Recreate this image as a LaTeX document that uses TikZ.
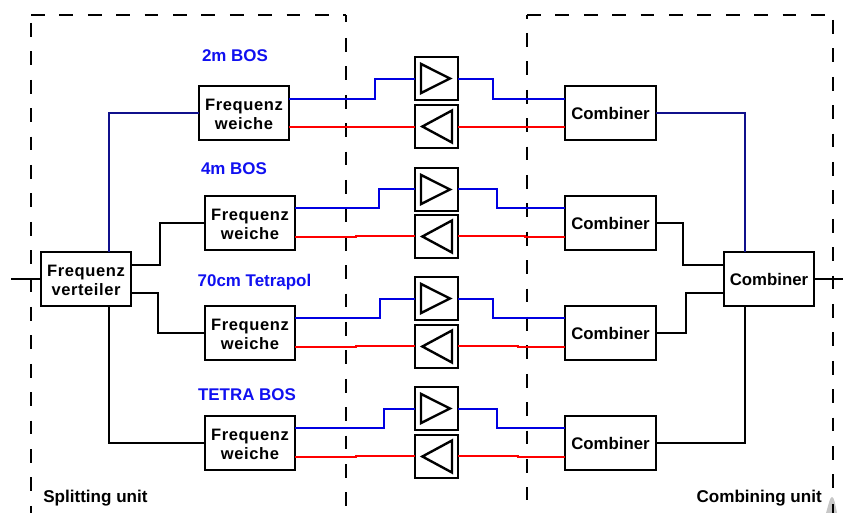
\documentclass[tikz,border=0pt]{standalone}
\usepackage{fontspec}
\setmainfont{Liberation Sans}[BoldFont={Liberation Sans Bold}]
\newfontfamily\trackfont{Liberation Sans Bold}[LetterSpace=3.5]
\definecolor{lineblue}{RGB}{0,0,225}
\definecolor{labelblue}{RGB}{16,16,240}
\definecolor{linered}{RGB}{255,0,0}
\definecolor{linenavy}{RGB}{16,16,140}
\newcommand{\tworow}[2]{\raisebox{-2.2pt}[\height][\depth]{\begin{tabular}{@{}c@{}}#1\\#2\end{tabular}}}
\newcommand{\oneline}[1]{\raisebox{-0.75pt}{#1}}
\tikzset{
  unitbox/.style={draw=black,line width=1.8pt,fill=white,inner sep=0pt,outer sep=0pt,
    minimum width=67.5pt,minimum height=40.5pt,align=center,
    font=\fontsize{12.4}{14.2}\selectfont\trackfont},
  combbox/.style={unitbox,font=\fontsize{12.6}{14}\selectfont\bfseries},
  ampbox/.style={draw=black,line width=1.8pt,fill=white,inner sep=0pt,outer sep=0pt,
    minimum width=32.25pt,minimum height=32.25pt},
  amptri/.style={draw=black,line width=1.8pt,line join=miter},
  conn/.style={line width=1.8pt,line join=miter},
  bandlabel/.style={text=labelblue,font=\fontsize{12.7}{14}\selectfont\bfseries,inner sep=0pt},
  unitlabel/.style={text=black,font=\fontsize{12.8}{14}\selectfont\bfseries,inner sep=0pt},
  unitedge/.style={line width=1.8pt,dash pattern=on 10.3pt off 11pt}
}
\begin{document}
\begin{tikzpicture}[x=0.75pt,y=-0.75pt]
\useasboundingbox (0,0) rectangle (843,513);
% unit outlines
\draw[unitedge] (31,15) -- (346,15);
\draw[unitedge] (31,23) -- (31,513);
\draw[line width=1.8pt] (346,15) -- (346,22);
\draw[unitedge] (346,38) -- (346,513);
\draw[unitedge] (527,15) -- (833,15);
\draw[line width=1.8pt] (527,15) -- (527,19);
\draw[unitedge] (527,33) -- (527,500);
\draw[unitedge] (833,20) -- (833,490);
\fill[black!22] (826,513) .. controls (829,503) and (830,497) .. (832,497) .. controls (834,497) and (835,503) .. (837,513) -- cycle;
\draw[line width=1.8pt] (833,504) -- (833,513);

% boxes
\node[unitbox] (v) at (86,279) {\tworow{Frequenz}{verteiler}};
\node[combbox] (cc) at (769,279) {\oneline{Combiner}};
\node[unitbox] (w1) at (244,113) {\tworow{Frequenz}{weiche}};
\node[unitbox] (w2) at (250,223) {\tworow{Frequenz}{weiche}};
\node[unitbox] (w3) at (250,333) {\tworow{Frequenz}{weiche}};
\node[unitbox] (w4) at (250,443) {\tworow{Frequenz}{weiche}};
\node[combbox,minimum width=68.25pt] (c1) at (610.5,113) {\oneline{Combiner}};
\node[combbox,minimum width=68.25pt] (c2) at (610.5,223) {\oneline{Combiner}};
\node[combbox,minimum width=68.25pt] (c3) at (610.5,333) {\oneline{Combiner}};
\node[combbox,minimum width=68.25pt] (c4) at (610.5,443) {\oneline{Combiner}};
\foreach \n/\yu/\yd in {1/78.5/126.5,2/189.5/236.5,3/298.5/346.5,4/408.5/456.5}{
  \node[ampbox] (u\n) at (436.5,\yu) {};
  \node[ampbox] (d\n) at (436.5,\yd) {};
  \draw[amptri] ([xshift=-11.6pt,yshift=10.9pt]u\n.center) -- ([xshift=10.1pt]u\n.center) -- ([xshift=-11.6pt,yshift=-10.9pt]u\n.center) -- cycle;
  \draw[amptri] ([xshift=11.6pt,yshift=12pt]d\n.center) -- ([xshift=-10.6pt]d\n.center) -- ([xshift=11.6pt,yshift=-12pt]d\n.center) -- cycle;
}

% free ends of the feed lines
\coordinate (inL) at (11,279);
\coordinate (outR) at (843,279);
\draw[conn] (inL) -- (v.west);
\draw[conn] (cc.east) -- (outR);

% distribution side
\draw[conn,linenavy] (v.north -| 109,0) |- (w1.west);
\draw[conn] (v.east |- 0,265) -- (160,265) |- (w2.west);
\draw[conn] (v.east |- 0,293) -- (158,293) |- (w3.west);
\draw[conn] (v.south -| 109,0) |- (w4.west);

% combining side
\draw[conn,linenavy] (c1.east) -| (cc.north -| 745,0);
\draw[conn] (c2.east) -- (683,223) |- (cc.west |- 0,265);
\draw[conn] (c3.east) -- (686,333) |- (cc.west |- 0,293);
\draw[conn] (c4.east) -| (cc.south -| 745,0);

% forward paths (blue)
\draw[conn,lineblue] (w1.east |- 0,99) -- (375,99) |- (u1.west |- 0,79);
\draw[conn,lineblue] (u1.east |- 0,79) -- (493,79) |- (c1.west |- 0,99);
\draw[conn,lineblue] (w2.east |- 0,208) -- (379,208) |- (u2.west |- 0,189);
\draw[conn,lineblue] (u2.east |- 0,189) -- (497,189) |- (c2.west |- 0,208);
\draw[conn,lineblue] (w3.east |- 0,318) -- (380,318) |- (u3.west |- 0,299);
\draw[conn,lineblue] (u3.east |- 0,299) -- (493,299) |- (c3.west |- 0,318);
\draw[conn,lineblue] (w4.east |- 0,428) -- (384,428) |- (u4.west |- 0,409);
\draw[conn,lineblue] (u4.east |- 0,409) -- (497,409) |- (c4.west |- 0,428);

% return paths (red)
\draw[conn,linered] (w1.east |- 0,127) -- (d1.west |- 0,127);
\draw[conn,linered] (d1.east |- 0,127) -- (c1.west |- 0,127);
\draw[conn,linered] (w2.east |- 0,237) -- (356,237) -- (356,236) -- (d2.west |- 0,236);
\draw[conn,linered] (d2.east |- 0,236) -- (525,236) -- (525,237) -- (c2.west |- 0,237);
\draw[conn,linered] (w3.east |- 0,347) -- (356,347) -- (356,346) -- (d3.west |- 0,346);
\draw[conn,linered] (d3.east |- 0,346) -- (518,346) -- (518,347) -- (c3.west |- 0,347);
\draw[conn,linered] (w4.east |- 0,457) -- (356,457) -- (356,456) -- (d4.west |- 0,456);
\draw[conn,linered] (d4.east |- 0,456) -- (518,456) -- (518,457) -- (c4.west |- 0,457);

% labels
\node[bandlabel] (l1) at (235,56) {2m BOS};
\node[bandlabel] (l2) at (234,169) {4m BOS};
\node[bandlabel] (l3) at (254.5,282) {70cm Tetrapol};
\node[bandlabel] (l4) at (247,394.5) {TETRA BOS};
\node[unitlabel,anchor=west] (su) at (43,498) {Splitting unit};
\node[unitlabel,anchor=east] (cu) at (822,498) {Combining unit};
\end{tikzpicture}
\end{document}
